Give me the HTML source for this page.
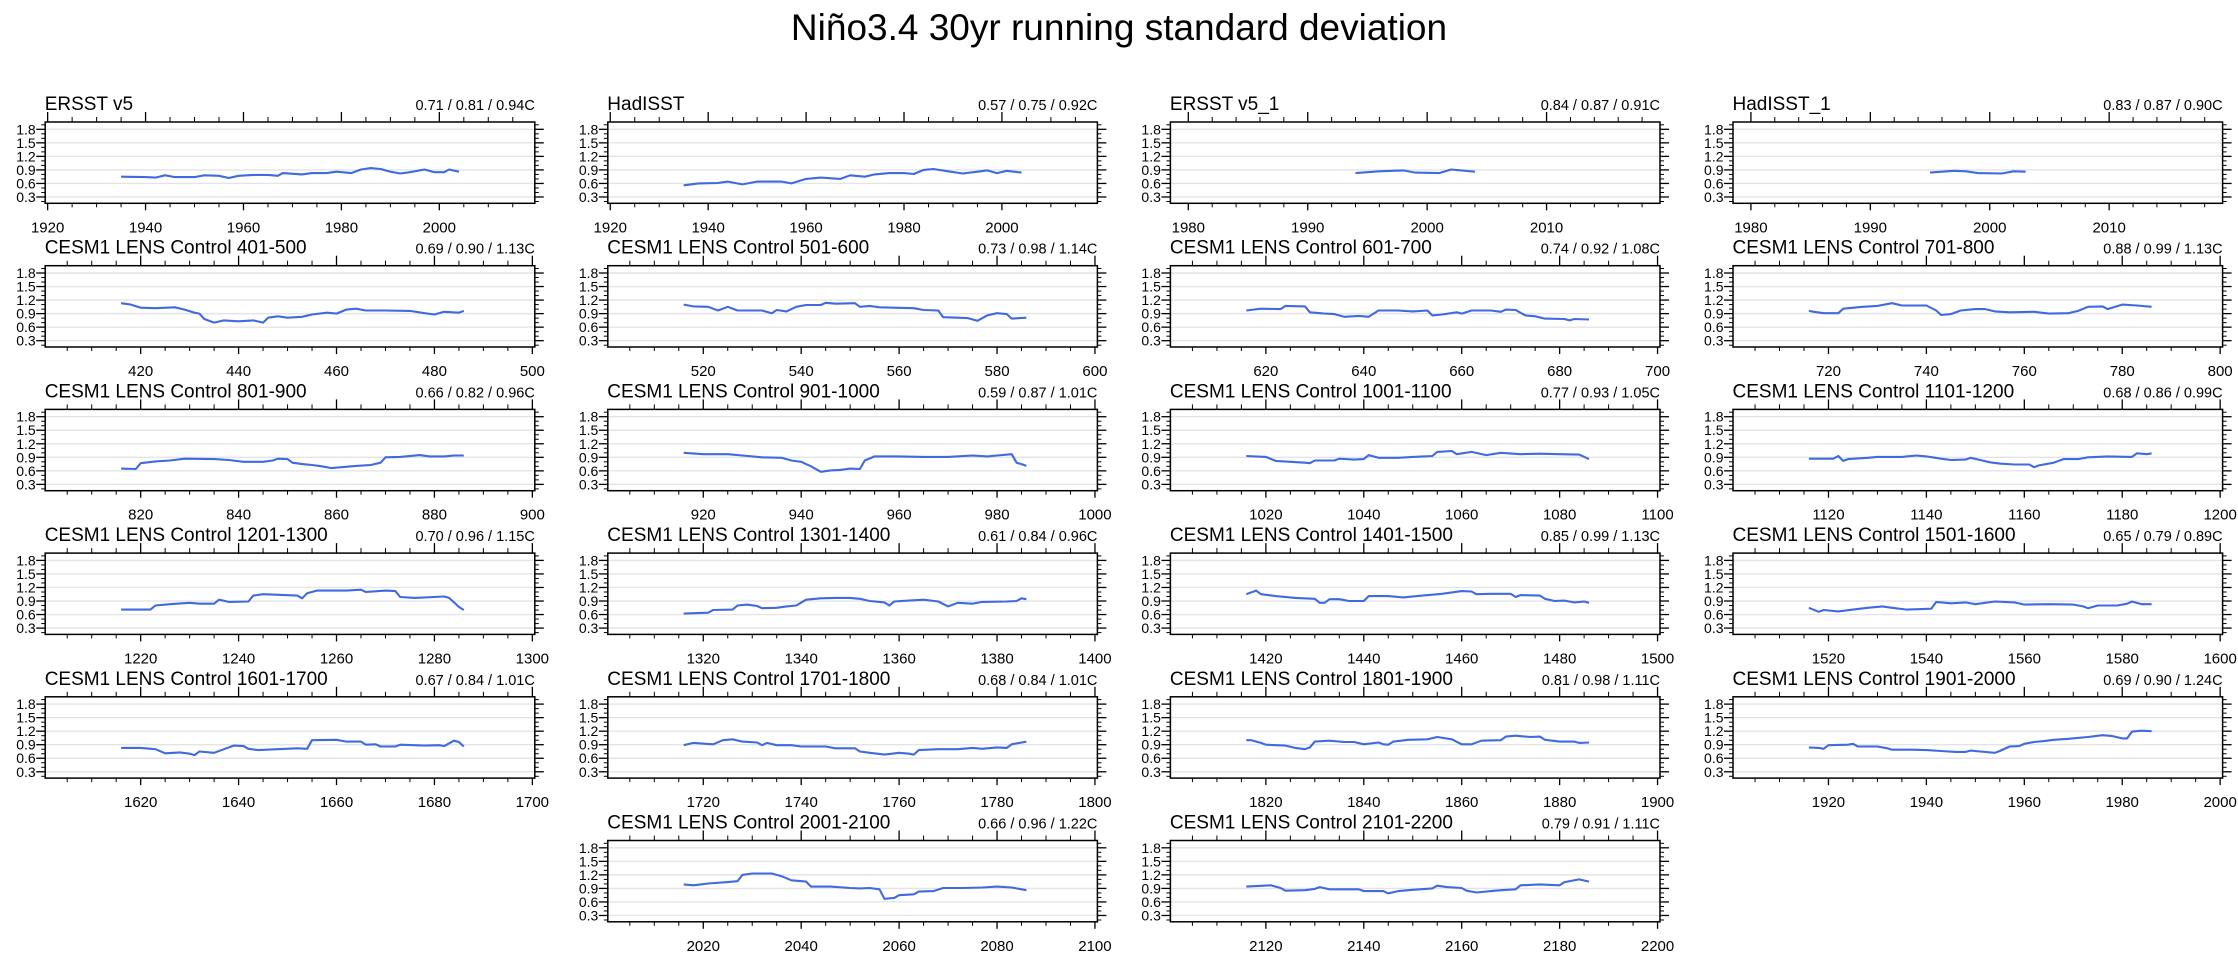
<!DOCTYPE html>
<html>
<head>
<meta charset="utf-8">
<style>
  html, body { margin: 0; padding: 0; background: #ffffff; }
  svg { display: block; font-family: "Liberation Sans", Arial, sans-serif; }
</style>
</head>
<body>
<svg id="chart" width="2238" height="959" viewBox="0 0 2238 959" xmlns="http://www.w3.org/2000/svg">
  <rect x="0" y="0" width="2238" height="959" fill="#ffffff"/>
  <text x="1119" y="40" text-anchor="middle" font-size="37" fill="#000">Niño3.4 30yr running standard deviation</text>
  <g id="panels"></g>
</svg>
<script>
// ---- data ----
const panelTitles = ["ERSST v5","HadISST","ERSST v5_1","HadISST_1",
 "CESM1 LENS Control 401-500","CESM1 LENS Control 501-600","CESM1 LENS Control 601-700","CESM1 LENS Control 701-800",
 "CESM1 LENS Control 801-900","CESM1 LENS Control 901-1000","CESM1 LENS Control 1001-1100","CESM1 LENS Control 1101-1200",
 "CESM1 LENS Control 1201-1300","CESM1 LENS Control 1301-1400","CESM1 LENS Control 1401-1500","CESM1 LENS Control 1501-1600",
 "CESM1 LENS Control 1601-1700","CESM1 LENS Control 1701-1800","CESM1 LENS Control 1801-1900","CESM1 LENS Control 1901-2000",
 "CESM1 LENS Control 2001-2100","CESM1 LENS Control 2101-2200"];
const panelStats = ["0.71 / 0.81 / 0.94C","0.57 / 0.75 / 0.92C","0.84 / 0.87 / 0.91C","0.83 / 0.87 / 0.90C",
 "0.69 / 0.90 / 1.13C","0.73 / 0.98 / 1.14C","0.74 / 0.92 / 1.08C","0.88 / 0.99 / 1.13C",
 "0.66 / 0.82 / 0.96C","0.59 / 0.87 / 1.01C","0.77 / 0.93 / 1.05C","0.68 / 0.86 / 0.99C",
 "0.70 / 0.96 / 1.15C","0.61 / 0.84 / 0.96C","0.85 / 0.99 / 1.13C","0.65 / 0.79 / 0.89C",
 "0.67 / 0.84 / 1.01C","0.68 / 0.84 / 1.01C","0.81 / 0.98 / 1.11C","0.69 / 0.90 / 1.24C",
 "0.66 / 0.96 / 1.22C","0.79 / 0.91 / 1.11C"];
const xDomains = [[1919.5,2019.5],[1919.5,2019.5],[1978.5,2019.5],[1978.5,2019.5],
 [400.5,500.5],[500.5,600.5],[600.5,700.5],[700.5,800.5],
 [800.5,900.5],[900.5,1000.5],[1000.5,1100.5],[1100.5,1200.5],
 [1200.5,1300.5],[1300.5,1400.5],[1400.5,1500.5],[1500.5,1600.5],
 [1600.5,1700.5],[1700.5,1800.5],[1800.5,1900.5],[1900.5,2000.5],
 [2000.5,2100.5],[2100.5,2200.5]];
const xTickSteps = [[20,5],[20,5],[10,2],[10,2],[20,5],[20,5],[20,5],[20,5],[20,5],[20,5],[20,5],[20,5],
 [20,5],[20,5],[20,5],[20,5],[20,5],[20,5],[20,5],[20,5],[20,5],[20,5]];
const yTickValues = [0.3,0.6,0.9,1.2,1.5,1.8];
const yTickLabels = ["0.3","0.6","0.9","1.2","1.5","1.8"];
const yDomain = [0.16,1.962];

const ersstYears = [1935,1940,1942,1944,1946,1950,1952,1955,1957,1959,1962,1965,1967,1968,1972,1974,1977,1979,1982,1984,1986,1988,1990,1992,1994,1997,1999,2001,2002,2004];
const ersstVals  = [0.75,0.74,0.73,0.78,0.74,0.74,0.78,0.77,0.72,0.77,0.79,0.79,0.77,0.83,0.80,0.83,0.83,0.86,0.83,0.91,0.94,0.92,0.86,0.82,0.85,0.91,0.85,0.85,0.91,0.86];
const hadYears = [1935,1938,1942,1944,1947,1950,1955,1957,1960,1963,1967,1969,1972,1974,1977,1980,1982,1984,1986,1989,1992,1995,1997,1999,2001,2004];
const hadVals  = [0.56,0.60,0.61,0.64,0.58,0.64,0.64,0.60,0.70,0.73,0.70,0.78,0.75,0.80,0.83,0.83,0.81,0.90,0.92,0.87,0.82,0.86,0.89,0.83,0.88,0.84];
const ersst1Years = [1994,1996,1998,1999,2001,2002,2004];
const ersst1Vals  = [0.83,0.87,0.89,0.84,0.83,0.91,0.86];
const had1Years = [1995,1997,1998,1999,2001,2002,2003];
const had1Vals  = [0.84,0.88,0.87,0.83,0.82,0.87,0.86];
const c401Years = [416,418,420,423,427,429,431,432,433,435,437,440,443,445,446,448,450,453,455,458,460,462,464,466,470,475,478,480,482,485,486];
const c401Vals  = [1.13,1.10,1.03,1.02,1.04,0.99,0.92,0.90,0.78,0.70,0.75,0.73,0.75,0.70,0.81,0.84,0.81,0.83,0.88,0.92,0.90,0.99,1.01,0.97,0.97,0.96,0.91,0.88,0.94,0.92,0.96];
const c501Years = [516,518,521,523,525,527,532,534,535,537,539,541,544,545,547,551,552,554,556,563,565,568,569,574,576,578,580,582,583,586];
const c501Vals  = [1.10,1.06,1.05,0.97,1.05,0.97,0.97,0.91,0.98,0.95,1.05,1.09,1.09,1.14,1.12,1.13,1.05,1.07,1.04,1.02,0.98,0.97,0.82,0.80,0.74,0.86,0.91,0.89,0.79,0.81];
const c601Years = [616,619,623,624,628,629,632,634,636,639,641,643,647,650,653,654,656,659,660,662,666,668,669,671,673,675,677,681,682,683,686];
const c601Vals  = [0.97,1.01,1.00,1.07,1.06,0.93,0.90,0.89,0.83,0.85,0.83,0.97,0.97,0.95,0.97,0.86,0.88,0.93,0.90,0.97,0.97,0.94,0.99,0.98,0.86,0.84,0.79,0.78,0.75,0.78,0.77];
const c701Years = [716,717,719,722,723,727,730,733,735,740,742,743,745,747,750,752,754,757,762,765,769,771,773,776,777,780,783,786];
const c701Vals  = [0.96,0.94,0.91,0.91,1.01,1.05,1.07,1.13,1.08,1.08,0.97,0.87,0.89,0.97,1.00,1.00,0.95,0.93,0.94,0.90,0.91,0.96,1.05,1.06,1.00,1.10,1.08,1.05];
const c801Years = [816,819,820,823,826,829,835,838,841,845,847,848,850,851,853,855,857,859,861,864,867,869,870,873,877,879,882,884,886];
const c801Vals  = [0.65,0.64,0.77,0.81,0.83,0.87,0.86,0.84,0.80,0.80,0.83,0.87,0.86,0.78,0.75,0.73,0.70,0.66,0.68,0.71,0.73,0.78,0.90,0.91,0.95,0.92,0.92,0.94,0.94];
const c901Years = [916,920,925,928,932,936,938,940,942,944,946,948,950,952,953,955,960,965,970,975,978,980,983,984,985,986];
const c901Vals  = [1.00,0.97,0.97,0.94,0.90,0.89,0.83,0.80,0.70,0.58,0.61,0.62,0.65,0.64,0.83,0.92,0.92,0.91,0.91,0.94,0.92,0.94,0.97,0.78,0.75,0.71];
const c1001Years = [1016,1020,1022,1025,1028,1029,1030,1034,1035,1038,1040,1041,1043,1047,1050,1054,1055,1058,1059,1062,1065,1068,1072,1076,1080,1084,1086];
const c1001Vals  = [0.93,0.91,0.82,0.80,0.78,0.77,0.83,0.83,0.87,0.85,0.86,0.95,0.89,0.89,0.91,0.93,1.02,1.04,0.97,1.02,0.95,1.00,0.97,0.98,0.97,0.96,0.86];
const c1101Years = [1116,1121,1122,1123,1124,1128,1130,1135,1138,1140,1143,1145,1148,1149,1151,1153,1155,1158,1161,1162,1163,1166,1168,1171,1173,1177,1182,1183,1185,1186];
const c1101Vals  = [0.87,0.87,0.93,0.82,0.86,0.89,0.91,0.91,0.94,0.92,0.87,0.84,0.85,0.89,0.84,0.79,0.76,0.74,0.74,0.68,0.72,0.78,0.86,0.86,0.90,0.92,0.91,0.99,0.97,0.99];
const c1201Years = [1216,1222,1223,1226,1230,1232,1235,1236,1238,1242,1243,1245,1252,1253,1254,1256,1262,1265,1266,1270,1272,1273,1276,1282,1283,1285,1286];
const c1201Vals  = [0.71,0.71,0.80,0.83,0.86,0.84,0.84,0.93,0.88,0.89,1.02,1.05,1.02,0.96,1.07,1.13,1.13,1.15,1.10,1.13,1.12,0.99,0.97,1.00,0.97,0.77,0.70];
const c1301Years = [1316,1321,1322,1326,1327,1329,1331,1332,1335,1337,1339,1341,1344,1347,1350,1352,1354,1357,1358,1359,1362,1365,1368,1370,1372,1375,1377,1382,1384,1385,1386];
const c1301Vals  = [0.62,0.64,0.70,0.71,0.80,0.82,0.79,0.74,0.75,0.78,0.80,0.93,0.96,0.97,0.97,0.95,0.90,0.87,0.80,0.89,0.91,0.93,0.89,0.78,0.86,0.84,0.88,0.89,0.90,0.96,0.94];
const c1401Years = [1416,1418,1419,1422,1426,1430,1431,1432,1433,1435,1437,1440,1441,1445,1448,1452,1456,1460,1462,1463,1466,1470,1471,1472,1476,1477,1479,1481,1483,1485,1486];
const c1401Vals  = [1.05,1.13,1.05,1.01,0.97,0.95,0.86,0.86,0.94,0.94,0.90,0.90,1.01,1.01,0.98,1.02,1.06,1.12,1.11,1.05,1.06,1.06,0.99,1.03,1.02,0.95,0.90,0.91,0.87,0.89,0.86];
const c1501Years = [1516,1518,1519,1522,1525,1528,1531,1533,1536,1539,1541,1542,1545,1548,1550,1552,1554,1558,1560,1565,1570,1572,1573,1575,1579,1581,1582,1584,1586];
const c1501Vals  = [0.75,0.66,0.70,0.67,0.71,0.75,0.78,0.75,0.71,0.72,0.73,0.88,0.85,0.87,0.83,0.86,0.89,0.87,0.82,0.83,0.82,0.78,0.74,0.80,0.80,0.84,0.89,0.83,0.83];
const c1601Years = [1616,1620,1623,1625,1628,1630,1631,1632,1635,1637,1639,1641,1642,1644,1648,1652,1654,1655,1660,1662,1665,1666,1668,1669,1672,1673,1678,1681,1682,1684,1685,1686];
const c1601Vals  = [0.83,0.83,0.80,0.71,0.73,0.70,0.67,0.75,0.72,0.80,0.88,0.87,0.81,0.78,0.80,0.82,0.81,1.00,1.01,0.97,0.97,0.90,0.91,0.86,0.86,0.90,0.88,0.89,0.87,0.99,0.96,0.86];
const c1701Years = [1716,1718,1722,1724,1726,1728,1731,1732,1733,1735,1738,1740,1745,1747,1751,1752,1754,1757,1760,1762,1763,1764,1768,1772,1775,1777,1780,1782,1783,1786];
const c1701Vals  = [0.89,0.94,0.91,1.00,1.02,0.97,0.95,0.89,0.94,0.89,0.89,0.86,0.86,0.82,0.82,0.75,0.72,0.68,0.72,0.70,0.68,0.78,0.80,0.80,0.83,0.81,0.84,0.83,0.91,0.97];
const c1801Years = [1816,1817,1819,1820,1824,1826,1828,1829,1830,1833,1836,1838,1840,1843,1844,1845,1846,1849,1853,1855,1858,1860,1862,1864,1868,1869,1871,1874,1876,1877,1880,1883,1884,1886];
const c1801Vals  = [1.00,1.00,0.94,0.90,0.88,0.83,0.80,0.84,0.97,0.99,0.96,0.96,0.91,0.95,0.91,0.90,0.97,1.01,1.02,1.07,1.02,0.91,0.91,0.99,1.00,1.08,1.10,1.07,1.08,1.01,0.97,0.97,0.94,0.95];
const c1901Years = [1916,1918,1919,1920,1924,1925,1926,1930,1932,1933,1937,1940,1943,1946,1948,1949,1951,1954,1955,1957,1959,1960,1962,1964,1966,1969,1973,1976,1978,1980,1981,1982,1984,1986];
const c1901Vals  = [0.84,0.83,0.81,0.89,0.90,0.92,0.86,0.86,0.82,0.79,0.79,0.78,0.76,0.74,0.74,0.77,0.75,0.72,0.76,0.86,0.87,0.92,0.96,0.98,1.01,1.03,1.07,1.11,1.09,1.04,1.04,1.19,1.21,1.20];
const c2001Years = [2016,2018,2021,2025,2027,2028,2030,2034,2036,2038,2041,2042,2046,2050,2052,2054,2056,2057,2059,2060,2063,2064,2067,2069,2073,2077,2080,2083,2086];
const c2001Vals  = [0.99,0.97,1.01,1.04,1.06,1.20,1.23,1.23,1.17,1.08,1.05,0.94,0.94,0.91,0.90,0.91,0.88,0.67,0.69,0.75,0.77,0.83,0.84,0.91,0.91,0.92,0.94,0.92,0.86];
const c2101Years = [2116,2121,2123,2124,2128,2130,2131,2133,2139,2140,2144,2145,2147,2150,2154,2155,2157,2160,2161,2163,2166,2168,2171,2172,2176,2180,2181,2184,2186];
const c2101Vals  = [0.94,0.97,0.91,0.85,0.86,0.89,0.93,0.88,0.88,0.84,0.84,0.79,0.84,0.87,0.90,0.96,0.93,0.91,0.85,0.81,0.84,0.86,0.88,0.97,0.99,0.97,1.04,1.10,1.05];

const seriesYears = [ersstYears,hadYears,ersst1Years,had1Years,c401Years,c501Years,c601Years,c701Years,c801Years,c901Years,c1001Years,c1101Years,c1201Years,c1301Years,c1401Years,c1501Years,c1601Years,c1701Years,c1801Years,c1901Years,c2001Years,c2101Years];
const seriesVals  = [ersstVals,hadVals,ersst1Vals,had1Vals,c401Vals,c501Vals,c601Vals,c701Vals,c801Vals,c901Vals,c1001Vals,c1101Vals,c1201Vals,c1301Vals,c1401Vals,c1501Vals,c1601Vals,c1701Vals,c1801Vals,c1901Vals,c2001Vals,c2101Vals];

// ---- layout ----
const NS = "http://www.w3.org/2000/svg";
const root = document.getElementById('panels');
const PW = 489.6, PH = 81.3;
function slotPos(i) {
  if (i < 20) return [i % 4, Math.floor(i / 4)];
  return [i - 19, 5];
}
function mk(tag, attrs, parent) {
  const e = document.createElementNS(NS, tag);
  for (const k in attrs) e.setAttribute(k, attrs[k]);
  parent.appendChild(e);
  return e;
}
function slug(s) { return s.toLowerCase().replace(/[^a-z0-9]+/g, '-').replace(/^-|-$/g, ''); }

panelTitles.forEach((title, i) => {
  const [c, r] = slotPos(i);
  const L = 45.2 + 562.6 * c, T = 122 + 143.7 * r, R = L + PW, B = T + PH;
  const [x0, x1] = xDomains[i];
  const xs = v => L + (v - x0) / (x1 - x0) * PW;
  const ys = v => B - (v - yDomain[0]) / (yDomain[1] - yDomain[0]) * PH;
  const g = mk('g', {}, root);
  
  

  yTickValues.forEach(v => {
    const gl = mk('line', {x1: L, x2: R, y1: ys(v), y2: ys(v), stroke: '#e4e4e4', 'stroke-width': 1.4}, g);
    
    
  });
  for (let k = 2; k <= 19; k++) {
    const v = k / 10;
    const major = (k % 3 === 0);
    const len = major ? 9 : 4;
    const y = ys(v);
    mk('line', {x1: L - len, x2: L, y1: y, y2: y, stroke: '#000', 'stroke-width': major ? 1.3 : 1}, g);
    mk('line', {x1: R, x2: R + len, y1: y, y2: y, stroke: '#000', 'stroke-width': major ? 1.3 : 1}, g);
  }
  yTickValues.forEach((v, j) => {
    const t = mk('text', {x: L - 9.5, y: ys(v) + 5, 'text-anchor': 'end', 'font-size': 14}, g);
    t.textContent = yTickLabels[j];
    
    
  });
  const [maj, mnr] = xTickSteps[i];
  for (let v = Math.ceil(x0 / mnr) * mnr; v <= x1; v += mnr) {
    const x = xs(v);
    const major = (v % maj === 0);
    mk('line', {x1: x, x2: x, y1: T, y2: T - (major ? 10 : 5), stroke: '#000', 'stroke-width': major ? 1.3 : 1}, g);
    mk('line', {x1: x, x2: x, y1: B, y2: B + (major ? 7 : 4), stroke: '#000', 'stroke-width': major ? 1.3 : 1}, g);
    if (major) {
      const t = mk('text', {x: x, y: B + 29, 'text-anchor': 'middle', 'font-size': 15}, g);
      t.textContent = String(v);
      
      
    }
  }
  const fr = mk('rect', {x: L, y: T, width: PW, height: PH, fill: 'none', stroke: '#000', 'stroke-width': 1.5}, g);
  
  
  const yrs = seriesYears[i], vals = seriesVals[i];
  const d = yrs.map((yr, j) => (j ? 'L' : 'M') + xs(yr).toFixed(1) + ',' + ys(vals[j]).toFixed(1)).join(' ');
  const p = mk('path', {d: d, fill: 'none', stroke: '#4169e1', 'stroke-width': 2.1, 'stroke-linejoin': 'round'}, g);
  
  
  const tt = mk('text', {x: L - 0.5, y: T - 12, 'font-size': 19}, g);
  tt.textContent = title;
  
  
  const st = mk('text', {x: R, y: T - 12, 'text-anchor': 'end', 'font-size': 14.5}, g);
  st.textContent = panelStats[i];
  
  
});
</script>
</body>
</html>
